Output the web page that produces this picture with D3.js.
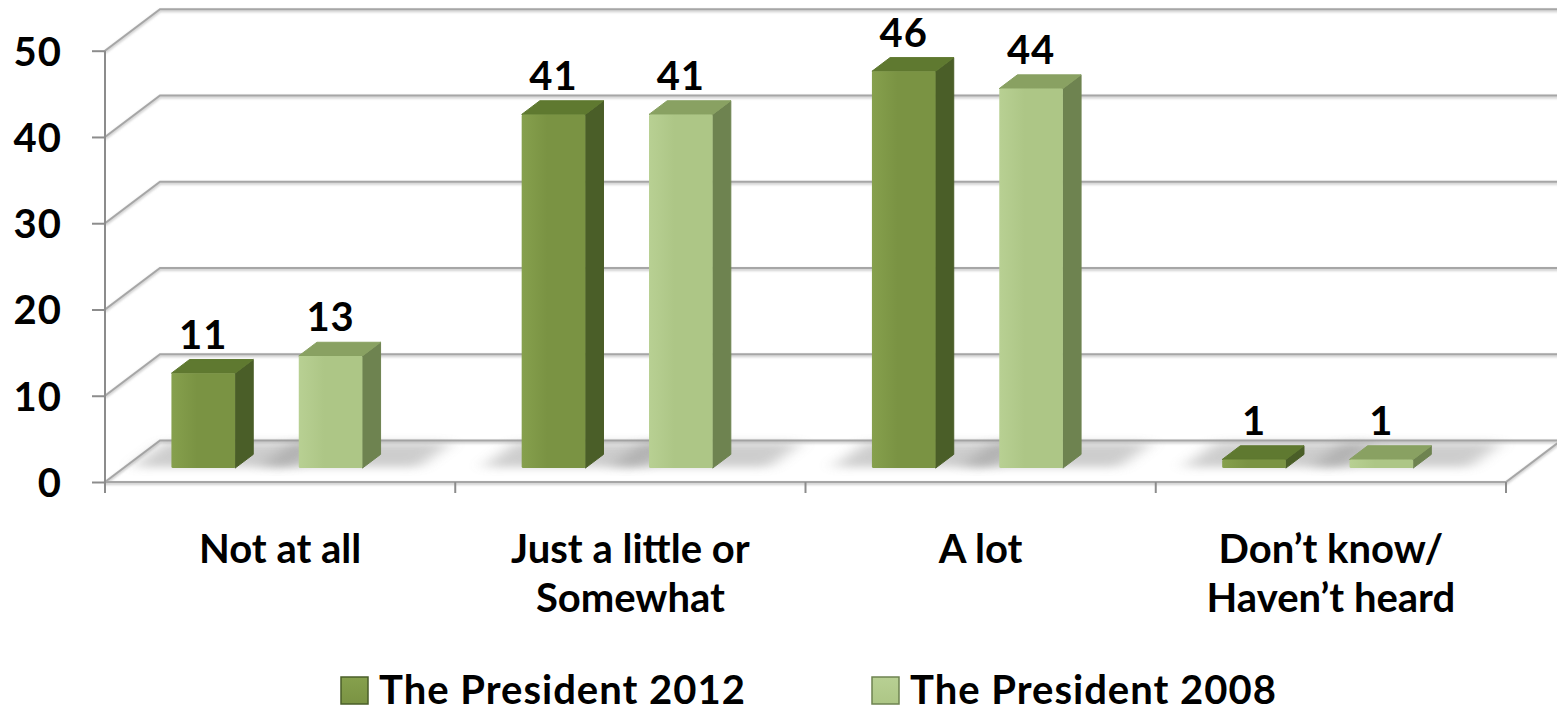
<!DOCTYPE html>
<html>
<head>
<meta charset="utf-8">
<script src="https://cdn.jsdelivr.net/npm/d3@7"></script>
<style>
  html, body { margin: 0; padding: 0; background: #ffffff; }
  svg { display: block; }
  text { font-family: Lato, "Open Sans", sans-serif; font-weight: 700; fill: #000; }
</style>
</head>
<body>
<svg id="chart" width="1557" height="714"></svg>
<script>
// ---- data ----
const categories = [["Not at all"], ["Just a little or", "Somewhat"], ["A lot"], ["Don\u2019t know/", "Haven\u2019t heard"]];
const categoryKeys = ["Not at all", "Just a little or Somewhat", "A lot", "Don't know/Haven't heard"];
const seriesNames = ["The President 2012", "The President 2008"];
const values2012 = [11, 41, 46, 1];
const values2008 = [13, 41, 44, 1];
const yTicks = [0, 10, 20, 30, 40, 50];

const seriesValues = [values2012, values2008];
const colors = [
  { front: "#7a9343", frontLight: "#86a04d", top: "#5f7930", side: "#4a5e28" },
  { front: "#adc686", frontLight: "#b8d093", top: "#89a162", side: "#6e8350" }
];

// ---- layout ----
const svg = d3.select("#chart");
const DX = 55, DY = 41.5;          // depth projection offsets
const zf = 0.335, zb = 0.665;      // bar depth extents (0 = front plane, 1 = back wall)

const x = d3.scaleBand().domain(categoryKeys).range([105, 1506]).padding(0);
const inner = d3.scaleBand().domain(seriesNames).range([48, 239]).paddingInner(0.5).paddingOuter(0);
const y = d3.scaleLinear().domain([0, 50]).range([482, 50.7]);

const proj = (bx, v, z) => [bx + z * DX, y(v) - z * DY];
const poly = pts => "M" + pts.map(p => p.join(",")).join("L") + "Z";

const defs = svg.append("defs");
const blur = defs.append("filter").attr("id", "blur").attr("x", "-50%").attr("y", "-100%").attr("width", "200%").attr("height", "300%");
blur.append("feGaussianBlur").attr("stdDeviation", "9 4");
const lineShadow = defs.append("filter").attr("id", "lshadow").attr("x", "-5%").attr("y", "-50%").attr("width", "110%").attr("height", "200%");
lineShadow.append("feGaussianBlur").attr("stdDeviation", 0.8);

colors.forEach((c, i) => {
  const g = defs.append("linearGradient").attr("id", "front" + i).attr("x1", 0).attr("x2", 1).attr("y1", 0).attr("y2", 0);
  g.append("stop").attr("offset", 0).attr("stop-color", c.frontLight);
  g.append("stop").attr("offset", 0.4).attr("stop-color", c.front);
  g.append("stop").attr("offset", 1).attr("stop-color", c.front);
  const lg = defs.append("linearGradient").attr("id", "leg" + i).attr("x1", 0).attr("x2", 0).attr("y1", 0).attr("y2", 1);
  lg.append("stop").attr("offset", 0).attr("stop-color", c.frontLight);
  lg.append("stop").attr("offset", 1).attr("stop-color", c.front);
});

const gridColor = "#a6a6a6";
const xLeft = x.range()[0], xRight = x.range()[1];

// ---- walls & gridlines ----
const grid = svg.append("g");
yTicks.forEach(t => {
  const a = proj(xLeft, t, 0), b = proj(xLeft, t, 1), c = proj(xRight, t, 1);
  const path = `M${a}L${b}L${c[0] + 10},${c[1]}`;
  grid.append("path").attr("d", path).attr("fill", "none").attr("stroke", "#d0d0d0")
    .attr("stroke-width", 3).attr("transform", "translate(0,1.5)").attr("filter", "url(#lshadow)");
  grid.append("path").attr("d", path).attr("fill", "none").attr("stroke", gridColor).attr("stroke-width", 2);
});
{
  const a = proj(xLeft, 0, 0), b = proj(xRight, 0, 0), c = proj(xRight, 0, 1);
  const path = `M${a}L${b}L${c}`;
  grid.append("path").attr("d", path).attr("fill", "none").attr("stroke", "#d0d0d0")
    .attr("stroke-width", 3).attr("transform", "translate(0,1.5)").attr("filter", "url(#lshadow)");
  grid.append("path").attr("d", path).attr("fill", "none").attr("stroke", gridColor).attr("stroke-width", 2);
}

// ---- axes ----
const yAxis = d3.axisLeft(y).tickValues(yTicks).tickSize(13).tickPadding(30).tickFormat(d3.format("d"));
const gy = svg.append("g").attr("transform", `translate(${xLeft},0)`).call(yAxis);
gy.select(".domain").attr("stroke", "#8c8c8c").attr("stroke-width", 2).attr("d", `M-0,${y(50)}V${y(0)}`);
gy.selectAll(".tick line").attr("stroke", "#8c8c8c").attr("stroke-width", 2);
gy.selectAll(".tick text").attr("font-size", 40).attr("font-family", "Lato, sans-serif").attr("font-weight", 700)
  .attr("fill", "#000").attr("dy", "0.36em").attr("letter-spacing", 1);

const xTicksPos = categoryKeys.map(k => x(k)).concat([xRight]);
const gx = svg.append("g");
gx.selectAll("line").data(xTicksPos).join("line")
  .attr("x1", d => d).attr("x2", d => d).attr("y1", y(0)).attr("y2", y(0) + 11)
  .attr("stroke", "#8c8c8c").attr("stroke-width", 2);

// category labels
const gl = svg.append("g");
categories.forEach((lines, i) => {
  const cx = x(categoryKeys[i]) + x.bandwidth() / 2;
  const t = gl.append("text").attr("x", cx).attr("y", 563).attr("text-anchor", "middle").attr("font-size", 40);
  lines.forEach((ln, j) => t.append("tspan").attr("x", cx).attr("dy", j === 0 ? 0 : 49).text(ln));
});

// ---- bars ----
const barsData = [];
categoryKeys.forEach((k, ci) => {
  seriesNames.forEach((s, si) => {
    barsData.push({ cat: k, si, v: seriesValues[si][ci], bx: x(k) + inner(s), w: inner.bandwidth() });
  });
});

// floor shadows
const shadows = svg.append("g");
barsData.forEach(d => {
  const p = [proj(d.bx - 40, 0, zf + 0.02), proj(d.bx + d.w + 55, 0, zf + 0.02), proj(d.bx + d.w + 55, 0, 0.95), proj(d.bx - 40, 0, 0.95)];
  shadows.append("path").attr("d", poly(p)).attr("fill", "#8a8a8a").attr("opacity", 0.42).attr("filter", "url(#blur)");
});

const bars = svg.append("g");
barsData.forEach(d => {
  const c = colors[d.si];
  const g = bars.append("g");
  const x0 = d.bx, x1 = d.bx + d.w;
  g.append("path").attr("d", poly([proj(x1, 0, zf), proj(x1, 0, zb), proj(x1, d.v, zb), proj(x1, d.v, zf)]))
    .attr("fill", c.side).attr("stroke", c.side).attr("stroke-width", 1).attr("stroke-linejoin", "round");
  g.append("path").attr("d", poly([proj(x0, d.v, zf), proj(x1, d.v, zf), proj(x1, d.v, zb), proj(x0, d.v, zb)]))
    .attr("fill", c.top).attr("stroke", c.top).attr("stroke-width", 1).attr("stroke-linejoin", "round");
  const a = proj(x0, d.v, zf), b = proj(x1, 0, zf);
  g.append("rect").attr("x", a[0]).attr("y", a[1]).attr("width", b[0] - a[0]).attr("height", b[1] - a[1])
    .attr("fill", `url(#front${d.si})`).attr("rx", 1.5);
});

// value labels
const labels = svg.append("g");
barsData.forEach(d => {
  const cx = proj(d.bx + d.w / 2, d.v, zf)[0];
  const ty = proj(d.bx, d.v, zb)[1] - 11;
  labels.append("text").attr("x", cx).attr("y", ty).attr("text-anchor", "middle").attr("font-size", 40)
    .attr("letter-spacing", 1).text(d.v);
});

// ---- legend ----
const legend = svg.append("g");
const legendX = [341, 872];
seriesNames.forEach((s, i) => {
  const g = legend.append("g").attr("transform", `translate(${legendX[i]},677)`);
  g.append("rect").attr("width", 27).attr("height", 27).attr("fill", `url(#leg${i})`)
    .attr("stroke", colors[i].side).attr("stroke-width", 1.5);
  g.append("text").attr("x", 38).attr("y", 27).attr("font-size", 40).attr("letter-spacing", 1).text(s);
});
</script>
</body>
</html>
